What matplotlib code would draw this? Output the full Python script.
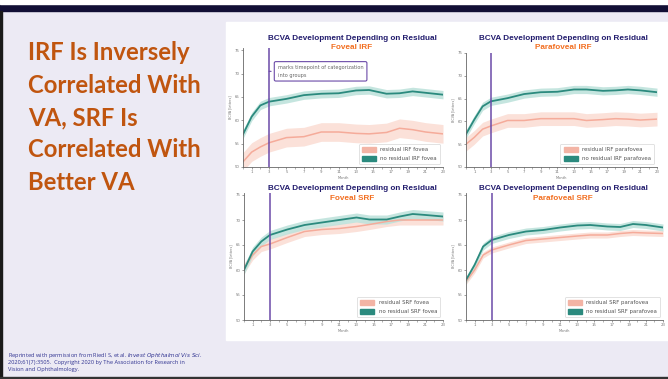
import numpy as np
import matplotlib
matplotlib.use("Agg")
from matplotlib import pyplot as plt
from matplotlib.patches import Rectangle, Patch

W, H = 668, 379

# data (BCVA letters per month)
months = [0, 1, 2, 3, 5, 7, 9, 11, 13, 14.5, 16.5, 18, 19.5, 21, 23]

irf_fov_no = [57.0, 60.8, 63.2, 64.0, 64.6, 65.4, 65.7, 65.8, 66.4, 66.5, 65.7, 65.8, 66.2, 65.9, 65.5]
irf_fov_res = [51.1, 53.2, 54.3, 55.2, 56.3, 56.5, 57.5, 57.5, 57.2, 57.1, 57.4, 58.3, 58.0, 57.5, 57.1]
irf_para_no = [57.2, 60.4, 63.3, 64.4, 65.1, 66.0, 66.4, 66.5, 67.0, 67.0, 66.7, 66.8, 67.0, 66.8, 66.4]
irf_para_res = [55.0, 56.5, 58.3, 59.0, 60.2, 60.2, 60.6, 60.6, 60.6, 60.2, 60.4, 60.6, 60.5, 60.3, 60.5]
srf_fov_no = [60.0, 63.7, 65.7, 67.0, 68.1, 69.0, 69.5, 70.0, 70.5, 70.1, 70.1, 70.7, 71.2, 71.0, 70.7]
srf_fov_res = [60.3, 63.0, 64.7, 65.2, 66.5, 67.7, 68.1, 68.3, 68.7, 69.1, 69.7, 70.0, 70.0, 70.0, 70.0]
srf_para_no = [58.0, 61.0, 64.7, 66.0, 67.0, 67.7, 68.0, 68.5, 68.9, 69.0, 68.7, 68.6, 69.2, 69.0, 68.5]
srf_para_res = [57.7, 60.0, 63.0, 64.0, 65.0, 65.9, 66.2, 66.5, 66.8, 67.0, 67.0, 67.3, 67.5, 67.4, 67.3]

# half width of the confidence band (no residual, residual)
ci_width = [(0.9, 2.0), (0.9, 1.5), (0.9, 1.0), (0.7, 0.6)]

subtitles = ["Foveal IRF", "Parafoveal IRF", "Foveal SRF", "Parafoveal SRF"]
legend_res = ["residual IRF fovea", "residual IRF parafovea",
              "residual SRF fovea", "residual SRF parafovea"]
legend_no = ["no residual IRF fovea", "no residual IRF parafovea",
             "no residual SRF fovea", "no residual SRF parafovea"]
yticks = [50, 55, 60, 65, 70, 75]
xticks = list(range(1, 24, 2))

series = [(irf_fov_no, irf_fov_res), (irf_para_no, irf_para_res),
          (srf_fov_no, srf_fov_res), (srf_para_no, srf_para_res)]

# axes boxes in pixels: left, top, right, bottom
boxes = [(243, 48, 443, 167), (466, 53, 657, 167),
         (244, 193, 443, 320), (466, 193, 663, 320)]
ylims = [(50, 75.5), (50, 74.5), (50, 75.4), (50, 75.4)]
title_pos = [(352, 38, 47.5), (563, 38, 47.5), (352, 189, 199), (563, 189, 199)]

teal = "#2b8a7e"
teal_band = "#bfe3dc"
salmon = "#f5ab9a"
salmon_band = "#fbe1d9"
purple = "#6b4aa8"


def fx(x):
    return x / W


def fy(y):
    return 1 - y / H


fig = plt.figure(figsize=(W / 100, H / 100), dpi=100)
fig.patch.set_facecolor("#eceaf4")

# slide decorations, kept below the axes
deco = [((0, fy(11)), 1, 7 / H, "#120f35"),
        ((0, fy(4)), 1, 4 / H, "white"),
        ((0, 0), 2 / W, fy(11), "#1a1a1a"),
        ((0, 0), 1, 2 / H, "#333333"),
        ((fx(226), fy(340)), (668 - 226) / W, (340 - 22) / H, "white")]
for xy, w, h, c in deco:
    fig.patches.append(Rectangle(xy, w, h, transform=fig.transFigure,
                                 color=c, zorder=-5))

# slide heading
heading = ["IRF Is Inversely", "Correlated With", "VA, SRF Is",
           "Correlated With", "Better VA"]
for i, line in enumerate(heading):
    fig.text(fx(28), fy(53 + i * 32.3), line, fontsize=17.2, fontweight="bold",
             family=["Lato", "DejaVu Sans"], color="#c0550f", va="center", ha="left")

cite = ["Reprinted with permission from Riedl S, et al. $\\it{Invest\\ Ophthalmol\\ Vis\\ Sci}$.",
        "2020;61(7):3505.  Copyright 2020 by The Association for Research in",
        "Vision and Ophthalmology."]
for i, line in enumerate(cite):
    fig.text(fx(8), fy(355.5 + i * 6.8), line, fontsize=4.1, color="#2f3290",
             family=["Open Sans", "DejaVu Sans"], va="center", ha="left")

for k in range(4):
    l, t, r, b = boxes[k]
    ax = fig.add_axes([fx(l), fy(b), (r - l) / W, (b - t) / H], zorder=2)
    ax.set_facecolor("white")
    no_res, res = series[k]
    no_res = np.array(no_res)
    res = np.array(res)
    cw_no, cw_res = ci_width[k]

    ax.fill_between(months, res - cw_res, res + cw_res, color=salmon_band, lw=0)
    ax.fill_between(months, no_res - cw_no, no_res + cw_no, color=teal_band, lw=0, alpha=0.9)
    ax.plot(months, res, color=salmon, lw=1.1)
    ax.plot(months, no_res, color=teal, lw=1.3)
    ax.axvline(3, color=purple, lw=1.1)

    ax.set_xlim(0, 23)
    ax.set_ylim(*ylims[k])
    ax.set_yticks(yticks)
    ax.set_xticks(xticks)
    ax.set_xticks(range(0, 24), minor=True)
    ax.tick_params(labelsize=2.8, colors="#777777", length=1.5, width=0.5, pad=1)
    ax.tick_params(which="minor", length=1.2, width=0.4, colors="#777777")
    for s in ["top", "right"]:
        ax.spines[s].set_visible(False)
    for s in ["left", "bottom"]:
        ax.spines[s].set_color("#666666")
        ax.spines[s].set_linewidth(0.6)
    ax.set_ylabel("BCVA [letters]", fontsize=2.4, color="#777777", labelpad=1.5)
    ax.set_xlabel("Month", fontsize=2.6, color="#777777", labelpad=1.2)

    handles = [Patch(color="#f3b4a5"), Patch(color=teal)]
    leg = ax.legend(handles, [legend_res[k], legend_no[k]], loc="lower right",
                    fontsize=3.9, frameon=True, handlelength=2.6, handleheight=1.1,
                    borderpad=0.6, labelspacing=0.6, fancybox=True)
    leg.get_frame().set_edgecolor("#cccccc")
    leg.get_frame().set_linewidth(0.5)
    for txt in leg.get_texts():
        txt.set_color("#555555")

    tx, ty1, ty2 = title_pos[k]
    fig.text(fx(tx), fy(ty1), "BCVA Development Depending on Residual", fontsize=5.9,
             fontweight="bold", family=["Liberation Sans", "DejaVu Sans"],
             color="#231d6e", ha="center", va="center")
    fig.text(fx(tx), fy(ty2), subtitles[k], fontsize=5.9, fontweight="bold",
             family=["Liberation Sans", "DejaVu Sans"], color="#f26f21",
             ha="center", va="center")

    if k == 0:
        ax.annotate("marks timepoint of categorization\ninto groups", xy=(3, 70.5),
                    xytext=(4.0, 70.5), fontsize=3.6, color="#666666", va="center",
                    ha="left", linespacing=1.6,
                    bbox=dict(boxstyle="round,pad=0.7,rounding_size=0.3", fc="white",
                              ec=purple, lw=0.8),
                    arrowprops=dict(arrowstyle="-", color=purple, lw=0.8))

fig.savefig("out.png", dpi=100, facecolor=fig.get_facecolor())
